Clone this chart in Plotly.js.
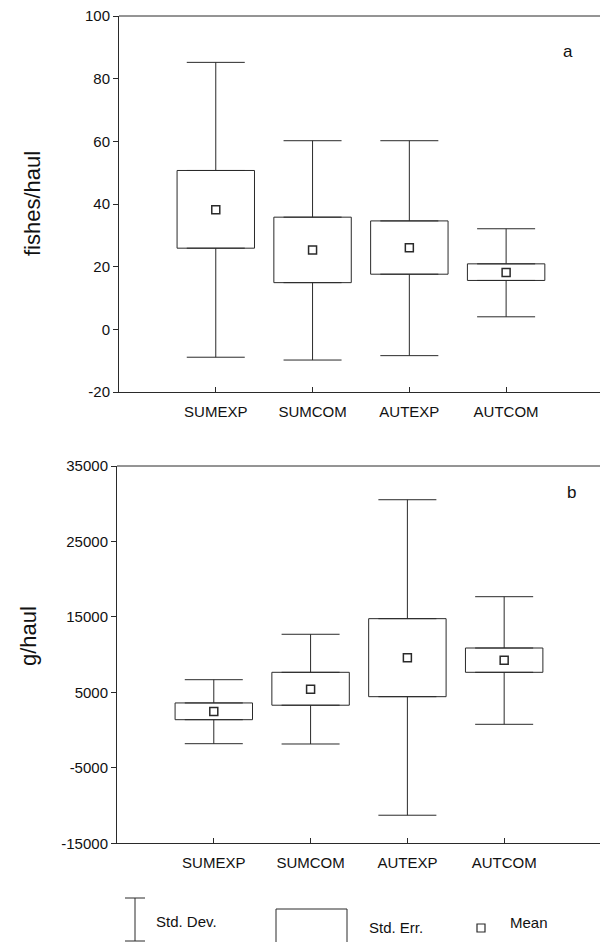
<!DOCTYPE html>
<html>
<head>
<meta charset="utf-8">
<script src="https://cdn.plot.ly/plotly-3.0.1.min.js"></script>
<style>html,body{margin:0;padding:0;background:#fff;}#chart{width:600px;height:942px;}</style>
</head>
<body>
<div id="chart"></div>
<script>
const categories = ['SUMEXP', 'SUMCOM', 'AUTEXP', 'AUTCOM'];

// Panel a: fishes/haul
const fishMean   = [38.2, 25.3, 26.0, 18.1];
const fishSeLow  = [25.9, 14.9, 17.6, 15.6];
const fishSeHigh = [50.7, 35.8, 34.6, 20.9];
const fishSdLow  = [-8.9, -9.8, -8.4, 4.0];
const fishSdHigh = [85.2, 60.2, 60.2, 32.1];

// Panel b: g/haul
const gMean   = [2450, 5400, 9600, 9250];
const gSeLow  = [1380, 3300, 4430, 7660];
const gSeHigh = [3600, 7660, 14770, 10880];
const gSdLow  = [-1800, -1840, -11280, 770];
const gSdHigh = [6680, 12700, 30530, 17680];

const fishTickVals = [-20, 0, 20, 40, 60, 80, 100];
const fishTickText = ['-20', '0', '20', '40', '60', '80', '100'];
const gTickVals = [-15000, -5000, 5000, 15000, 25000, 35000];
const gTickText = ['-15000', '-5000', '5000', '15000', '25000', '35000'];

const INK = '#2a2a2a';
const FONT = 'Liberation Sans, Arial, sans-serif';

function panelTraces(mean, lo, hi, sdLo, sdHi, xa, ya) {
  const common = {xaxis: xa, yaxis: ya, showlegend: false, hoverinfo: 'skip'};
  return [
    // Std. Err. box
    Object.assign({
      type: 'bar', x: categories, base: lo, y: hi.map((h, i) => h - lo[i]),
      width: 0.8, marker: {color: '#ffffff', line: {color: INK, width: 1}}
    }, common),
    // upper Std. Dev. whisker (from box top to mean + SD)
    Object.assign({
      type: 'scatter', mode: 'markers', x: categories, y: hi,
      marker: {size: 1, opacity: 0},
      error_y: {type: 'data', symmetric: false, array: sdHi.map((s, i) => s - hi[i]),
        arrayminus: hi.map(() => 0), color: INK, thickness: 1, width: 29}
    }, common),
    // lower Std. Dev. whisker (from box bottom to mean - SD)
    Object.assign({
      type: 'scatter', mode: 'markers', x: categories, y: lo,
      marker: {size: 1, opacity: 0},
      error_y: {type: 'data', symmetric: false, array: lo.map(() => 0),
        arrayminus: lo.map((l, i) => l - sdLo[i]), color: INK, thickness: 1, width: 29}
    }, common),
    // Mean
    Object.assign({
      type: 'scatter', mode: 'markers', x: categories, y: mean,
      marker: {symbol: 'square-open', size: 8, color: INK, line: {width: 1.5, color: INK}}
    }, common)
  ];
}

const data = [].concat(
  panelTraces(fishMean, fishSeLow, fishSeHigh, fishSdLow, fishSdHigh, 'x', 'y'),
  panelTraces(gMean, gSeLow, gSeHigh, gSdLow, gSdHigh, 'x2', 'y2')
);

const xCommon = {
  type: 'category', showline: true, linecolor: INK, linewidth: 1,
  ticks: 'inside', ticklen: 5, tickcolor: INK, tickwidth: 1,
  showgrid: false, zeroline: false, ticklabelstandoff: 6,
  tickfont: {family: FONT, size: 15, color: '#111'}, fixedrange: true
};
const yCommon = {
  showline: true, linecolor: INK, linewidth: 1,
  ticks: 'outside', ticklen: 5, tickcolor: INK, tickwidth: 1,
  showgrid: false, zeroline: false, tickmode: 'array',
  tickfont: {family: FONT, size: 15, color: '#111'}, fixedrange: true
};

const W = 600, H = 942;
const px = v => v / W;
const py = v => 1 - v / H;

const layout = {
  width: W, height: H,
  margin: {l: 0, r: 0, t: 0, b: 0},
  paper_bgcolor: '#fff', plot_bgcolor: '#fff',
  showlegend: false, barmode: 'overlay',
  font: {family: FONT, color: '#111'},
  xaxis: Object.assign({}, xCommon, {domain: [119 / W, 1], range: [-1, 3.97], anchor: 'y'}),
  yaxis: Object.assign({}, yCommon, {domain: [py(392), py(16)], range: [-20, 100],
    tickvals: fishTickVals, ticktext: fishTickText, anchor: 'x'}),
  xaxis2: Object.assign({}, xCommon, {domain: [117 / W, 1], range: [-1, 3.99], anchor: 'y2'}),
  yaxis2: Object.assign({}, yCommon, {domain: [py(843.3), py(466)], range: [-15000, 35000],
    tickvals: gTickVals, ticktext: gTickText, anchor: 'x2'}),
  shapes: [
    // top frame lines
    {type: 'line', xref: 'x domain', yref: 'y domain', x0: 0, x1: 1, y0: 1, y1: 1, line: {color: INK, width: 1}},
    {type: 'line', xref: 'x2 domain', yref: 'y2 domain', x0: 0, x1: 1, y0: 1, y1: 1, line: {color: INK, width: 1}},
    // legend: std dev whisker
    {type: 'line', xref: 'paper', yref: 'paper', x0: px(135), x1: px(135), y0: py(898), y1: py(941), line: {color: INK, width: 1}},
    {type: 'line', xref: 'paper', yref: 'paper', x0: px(125), x1: px(145), y0: py(898), y1: py(898), line: {color: INK, width: 1}},
    {type: 'line', xref: 'paper', yref: 'paper', x0: px(125), x1: px(145), y0: py(941), y1: py(941), line: {color: INK, width: 1}},
    // legend: std err box
    {type: 'rect', xref: 'paper', yref: 'paper', x0: px(276), x1: px(347), y0: py(909), y1: py(946), line: {color: INK, width: 1}, fillcolor: '#fff'},
    // legend: mean square
    {type: 'rect', xref: 'paper', yref: 'paper', x0: px(477), x1: px(485), y0: py(924), y1: py(932), line: {color: INK, width: 1.2}, fillcolor: '#fff'}
  ],
  annotations: [
    {text: 'fishes/haul', xref: 'paper', yref: 'paper', x: px(33), y: py(204), textangle: -90,
      showarrow: false, xanchor: 'center', yanchor: 'middle', font: {family: FONT, size: 22, color: '#111'}},
    {text: 'g/haul', xref: 'paper', yref: 'paper', x: px(28), y: py(636), textangle: -90,
      showarrow: false, xanchor: 'center', yanchor: 'middle', font: {family: FONT, size: 22, color: '#111'}},
    {text: 'a', xref: 'paper', yref: 'paper', x: px(568), y: py(52), showarrow: false,
      xanchor: 'center', yanchor: 'middle', font: {family: FONT, size: 17, color: '#111'}},
    {text: 'b', xref: 'paper', yref: 'paper', x: px(571), y: py(492), showarrow: false,
      xanchor: 'center', yanchor: 'middle', font: {family: FONT, size: 17, color: '#111'}},
    {text: 'Std. Dev.', xref: 'paper', yref: 'paper', x: px(154), y: py(921), showarrow: false,
      xanchor: 'left', yanchor: 'middle', font: {family: FONT, size: 15, color: '#111'}},
    {text: 'Std. Err.', xref: 'paper', yref: 'paper', x: px(367), y: py(927), showarrow: false,
      xanchor: 'left', yanchor: 'middle', font: {family: FONT, size: 15, color: '#111'}},
    {text: 'Mean', xref: 'paper', yref: 'paper', x: px(508), y: py(922), showarrow: false,
      xanchor: 'left', yanchor: 'middle', font: {family: FONT, size: 15, color: '#111'}}
  ]
};

Plotly.newPlot('chart', data, layout, {staticPlot: true, displayModeBar: false});
</script>
</body>
</html>
